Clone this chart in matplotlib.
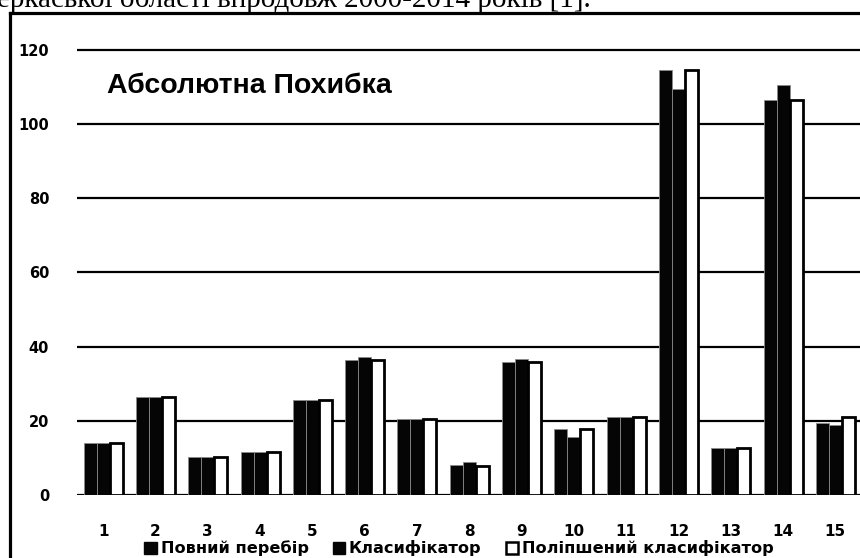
import matplotlib
matplotlib.use("Agg")
import matplotlib.pyplot as plt
from matplotlib.lines import Line2D
from matplotlib.patches import Patch
import numpy as np

categories = [str(i) for i in range(1, 16)]
full_search = [13.9, 26.3, 10.3, 11.7, 25.6, 36.4, 20.4, 8.1, 35.9, 17.7, 21.1, 114.6, 12.7, 106.5, 19.5]
classifier = [13.9, 26.3, 10.3, 11.7, 25.6, 37.1, 20.4, 8.8, 36.7, 15.6, 21.1, 109.4, 12.7, 110.5, 18.9]
improved = [13.9, 26.3, 10.3, 11.7, 25.6, 36.4, 20.4, 7.9, 35.9, 17.7, 21.1, 114.6, 12.7, 106.5, 21.1]
series_names = ["Повний перебір", "Класифікатор", "Поліпшений класифікатор"]
yticks = [0, 20, 40, 60, 80, 100, 120]
title = "Абсолютна Похибка"
caption = "еркаської області впродовж 2000-2014 років [1]."

W, H = 860, 558
fig = plt.figure(figsize=(W / 100, H / 100), dpi=100)
fig.patch.set_facecolor("white")

# axes placement (pixels)
px_per_unit = 3.71
y0_px = 495
ymax = 121
left_px = 77
right_px = 861.5
ax = fig.add_axes([left_px / W, (H - y0_px) / H, (right_px - left_px) / W, ymax * px_per_unit / H])

x = np.arange(len(categories))
bw = 0.249
ax.bar(x - bw, full_search, width=bw, color="#050505", edgecolor="#8a8a8a", linewidth=0.6, zorder=3)
ax.bar(x, classifier, width=bw, color="#050505", edgecolor="#8a8a8a", linewidth=0.6, zorder=3)
ax.bar(x + bw, improved, width=bw, color="white", edgecolor="black", linewidth=2.0, zorder=3)

ax.set_xlim(-0.5, len(categories) - 0.5)
ax.set_ylim(0, ymax)
ax.set_yticks(yticks)
ax.set_yticklabels([str(v) for v in yticks], fontsize=10.5, fontweight="bold")
ax.set_xticks(x)
ax.set_xticklabels(categories, fontsize=11, fontweight="bold")
ax.tick_params(axis="y", length=0, pad=20)
ax.tick_params(axis="x", length=0, pad=21)
ax.grid(axis="y", color="black", linewidth=1.6, zorder=0)
ax.set_axisbelow(True)
for s in ax.spines.values():
    s.set_visible(False)
ax.patch.set_alpha(0)

# title inside the chart
fig.text(107 / W, 1 - 86 / H, title, fontsize=20.5, fontweight="bold", family="Liberation Sans",
         ha="left", va="center", color="black")

# legend
handles = [Patch(facecolor="#050505", edgecolor="#050505"),
           Patch(facecolor="#050505", edgecolor="#050505"),
           Patch(facecolor="white", edgecolor="black", linewidth=1.8)]
fig.legend(handles, series_names, loc="center", bbox_to_anchor=(459 / W, 1 - 548.5 / H),
           ncol=3, frameon=False, handlelength=0.75, handleheight=0.75, handletextpad=0.25,
           columnspacing=1.5, borderaxespad=0, borderpad=0,
           prop={"weight": "bold", "size": 11.6})

# chart frame (cropped)
fig.add_artist(Line2D([10 / W, 1.01], [1 - 13 / H, 1 - 13 / H], transform=fig.transFigure,
                      color="black", linewidth=2.3))
fig.add_artist(Line2D([10 / W, 10 / W], [1 - 13 / H, -0.01], transform=fig.transFigure,
                      color="black", linewidth=2.3))

# document caption cut at the top
fig.text(-3 / W, 1 - 7 / H, caption, fontsize=21, family="Liberation Serif",
         ha="left", va="baseline", color="black")

fig.savefig("out.png", dpi=100)
